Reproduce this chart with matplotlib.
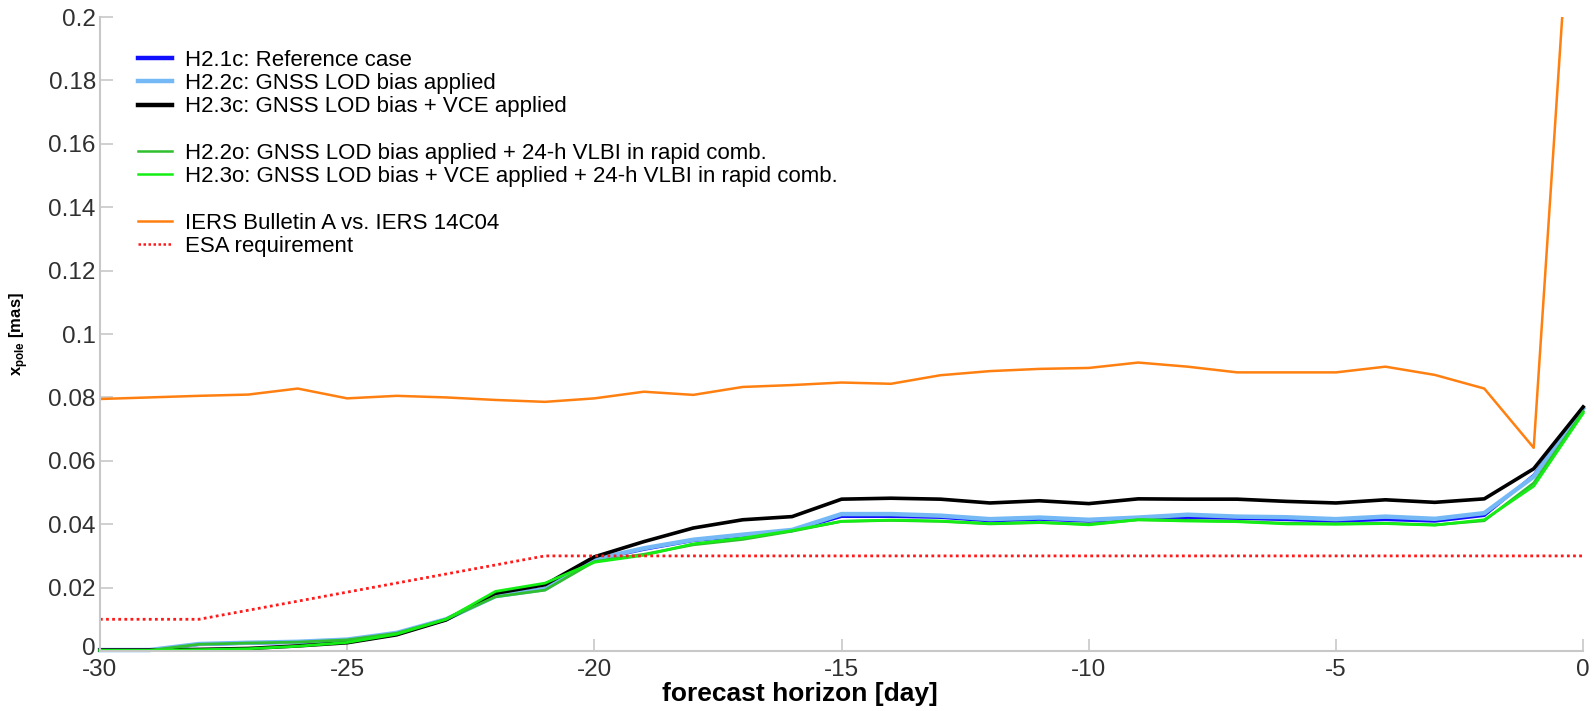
import numpy as np
import matplotlib
matplotlib.use("Agg")
import matplotlib.pyplot as plt
import matplotlib.transforms as mtransforms
from matplotlib.lines import Line2D
from matplotlib.ticker import FuncFormatter

plt.rcParams['font.family'] = ['Liberation Sans', 'DejaVu Sans']
plt.rcParams['axes.unicode_minus'] = False
plt.rcParams['mathtext.fontset'] = 'custom'
plt.rcParams['mathtext.bf'] = 'Liberation Sans:bold'
plt.rcParams['mathtext.rm'] = 'Liberation Sans'

# forecast horizon (days)
days = np.arange(-30, 1)

# x-pole prediction errors [mas]
h21c = [0.0003, 0.0003, 0.0020, 0.0024, 0.0027, 0.0034, 0.0055, 0.0099, 0.0175, 0.0197,
        0.0287, 0.0320, 0.0348, 0.0362, 0.0379, 0.0424, 0.0424, 0.0421, 0.0410, 0.0415,
        0.0409, 0.0416, 0.0421, 0.0418, 0.0414, 0.0409, 0.0414, 0.0409, 0.0427, 0.0555, 0.0768]
h22c = [0.0003, 0.0003, 0.0022, 0.0026, 0.0029, 0.0036, 0.0057, 0.0100, 0.0173, 0.0195,
        0.0289, 0.0324, 0.0351, 0.0367, 0.0382, 0.0432, 0.0432, 0.0427, 0.0416, 0.0421,
        0.0414, 0.0421, 0.0430, 0.0424, 0.0422, 0.0416, 0.0424, 0.0417, 0.0435, 0.0550, 0.0765]
h23c = [0.0003, 0.0003, 0.0005, 0.0008, 0.0016, 0.0026, 0.0051, 0.0098, 0.0182, 0.0209,
        0.0297, 0.0345, 0.0388, 0.0414, 0.0424, 0.0479, 0.0482, 0.0479, 0.0467, 0.0474,
        0.0465, 0.0480, 0.0479, 0.0479, 0.0472, 0.0467, 0.0477, 0.0469, 0.0480, 0.0575, 0.0770]
h22o = [0.0002, 0.0002, 0.0021, 0.0025, 0.0028, 0.0035, 0.0056, 0.0100, 0.0171, 0.0192,
        0.0282, 0.0305, 0.0335, 0.0352, 0.0378, 0.0409, 0.0412, 0.0409, 0.0401, 0.0405,
        0.0400, 0.0414, 0.0412, 0.0409, 0.0403, 0.0401, 0.0403, 0.0398, 0.0411, 0.0530, 0.0755]
h23o = [0.0002, 0.0002, 0.0004, 0.0007, 0.0015, 0.0027, 0.0053, 0.0100, 0.0188, 0.0214,
        0.0280, 0.0302, 0.0338, 0.0356, 0.0380, 0.0409, 0.0413, 0.0410, 0.0402, 0.0406,
        0.0398, 0.0414, 0.0410, 0.0408, 0.0401, 0.0400, 0.0402, 0.0397, 0.0414, 0.0520, 0.0750]
iers_a = [0.0795, 0.0800, 0.0805, 0.0809, 0.0828, 0.0797, 0.0805, 0.0800, 0.0792, 0.0786,
          0.0797, 0.0818, 0.0808, 0.0833, 0.0839, 0.0847, 0.0843, 0.0870, 0.0883, 0.0890,
          0.0893, 0.0910, 0.0897, 0.0879, 0.0879, 0.0879, 0.0897, 0.0871, 0.0828, 0.0641, 0.30]

esa_days = [-30, -28, -21, 0]
esa_req = [0.01, 0.01, 0.03, 0.03]

labels = ["H2.1c: Reference case",
          "H2.2c: GNSS LOD bias applied",
          "H2.3c: GNSS LOD bias + VCE applied",
          "H2.2o: GNSS LOD bias applied + 24-h VLBI in rapid comb.",
          "H2.3o: GNSS LOD bias + VCE applied + 24-h VLBI in rapid comb.",
          "IERS Bulletin A vs. IERS 14C04",
          "ESA requirement"]

c_blue, c_lblue, c_black = '#1010ff', '#74b9f5', '#000000'
c_g1, c_g2 = '#2fbf2f', '#14ee14'
c_orange, c_red = '#ff8010', '#ff1a1a'

fig = plt.figure(figsize=(15.94, 7.11), dpi=100)
ax = fig.add_axes([0.0627, 0.0844, 0.9305, 0.8916])

ax.plot(days, h21c, color=c_blue, lw=2.0, clip_on=False)
ax.plot(days, h22c, color=c_lblue, lw=3.2, clip_on=False)
ax.plot(days, h23c, color=c_black, lw=2.6, clip_on=False)
ax.plot(days, h22o, color=c_g1, lw=2.0, clip_on=False)
ax.plot(days, h23o, color=c_g2, lw=2.0, clip_on=False)
ax.plot(days, iers_a, color=c_orange, lw=1.8)
ax.plot(esa_days, esa_req, color=c_red, lw=2.0, ls=(0, (1, 1.2)))

ax.set_xlim(-30, 0)
ax.set_ylim(0, 0.2)
ax.set_xticks(np.arange(-30, 1, 5))
ax.set_yticks(np.arange(0, 0.201, 0.02))
ax.yaxis.set_major_formatter(FuncFormatter(lambda v, p: f"{round(v, 3):g}"))

for s in ['top', 'right']:
    ax.spines[s].set_visible(False)
for s in ['left', 'bottom']:
    ax.spines[s].set_color('#c8c8c8')
    ax.spines[s].set_linewidth(1.5)
ax.tick_params(direction='in', length=9, width=1.2, color='#c8c8c8',
               labelsize=17.5, labelcolor='#303030')
ax.tick_params(axis='y', pad=3)
ax.tick_params(axis='x', pad=6)

# nudge the "0" y label up a little so it does not touch "-30"
zero_lbl = ax.yaxis.get_majorticklabels()[0]
zero_lbl.set_transform(zero_lbl.get_transform() +
                       mtransforms.ScaledTranslation(0, 3 / 72, fig.dpi_scale_trans))

ax.set_xlabel("forecast horizon [day]", fontsize=19, fontweight='bold')
ax.xaxis.set_label_coords(0.472, -0.049)
ax.set_ylabel(r"$\mathbf{x}_{\mathbf{pole}}$ [mas]", fontsize=12, fontweight='bold')
ax.yaxis.set_label_coords(-0.047, 0.5)

blank = Line2D([], [], color='none')
handles = [Line2D([], [], color=c_blue, lw=3.2),
           Line2D([], [], color=c_lblue, lw=3.2),
           Line2D([], [], color=c_black, lw=3.2),
           blank,
           Line2D([], [], color=c_g1, lw=1.8),
           Line2D([], [], color=c_g2, lw=1.8),
           blank,
           Line2D([], [], color=c_orange, lw=1.8),
           Line2D([], [], color=c_red, lw=1.8, ls=(0, (1, 1)))]
leg_labels = labels[:3] + [""] + labels[3:5] + [""] + labels[5:]
ax.legend(handles, leg_labels, loc='upper left', bbox_to_anchor=(0.0256, 0.948),
          frameon=False, fontsize=16, handlelength=1.55, handletextpad=0.55,
          labelspacing=0.1, borderpad=0, borderaxespad=0)

fig.savefig("out.png", dpi=100)
